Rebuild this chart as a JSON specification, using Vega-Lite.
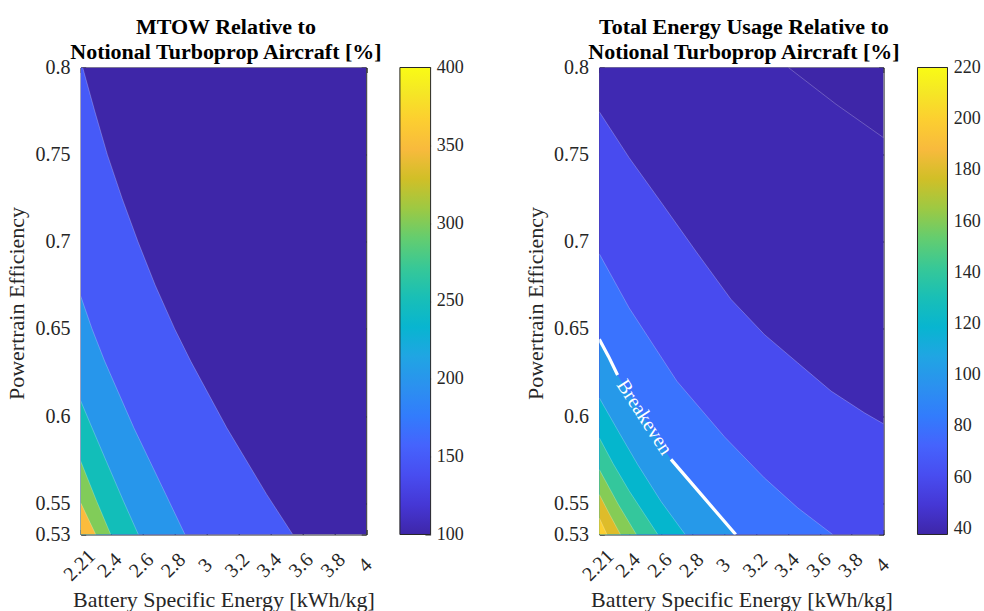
{
  "$schema": "https://vega.github.io/schema/vega-lite/v6.json",
  "padding": {"left": 5.7, "top": 15.5, "right": 0, "bottom": 0},
  "background": "white",
  "datasets": {
    "mtow": [
      {"level": 0, "x": 4, "y": 0.532}, {"level": 0, "x": 4, "y": 0.8},
      {"level": 150, "x": 3.540, "y": 0.532}, {"level": 150, "x": 3.377, "y": 0.555}, {"level": 150, "x": 3.127, "y": 0.5932}, {"level": 150, "x": 2.901, "y": 0.6315}, {"level": 150, "x": 2.801, "y": 0.65}, {"level": 150, "x": 2.679, "y": 0.675}, {"level": 150, "x": 2.571, "y": 0.70}, {"level": 150, "x": 2.471, "y": 0.725}, {"level": 150, "x": 2.379, "y": 0.75}, {"level": 150, "x": 2.300, "y": 0.775}, {"level": 150, "x": 2.2245, "y": 0.8},
      {"level": 200, "x": 2.865, "y": 0.532}, {"level": 200, "x": 2.745, "y": 0.555}, {"level": 200, "x": 2.545, "y": 0.5932}, {"level": 200, "x": 2.362, "y": 0.6315}, {"level": 200, "x": 2.283, "y": 0.65}, {"level": 200, "x": 2.212, "y": 0.6688},
      {"level": 250, "x": 2.573, "y": 0.532}, {"level": 250, "x": 2.480, "y": 0.5511}, {"level": 250, "x": 2.372, "y": 0.5741}, {"level": 250, "x": 2.283, "y": 0.5932}, {"level": 250, "x": 2.212, "y": 0.6087},
      {"level": 300, "x": 2.400, "y": 0.532}, {"level": 300, "x": 2.312, "y": 0.5511}, {"level": 300, "x": 2.212, "y": 0.5741},
      {"level": 350, "x": 2.306, "y": 0.532}, {"level": 350, "x": 2.212, "y": 0.5502}
    ],
    "energy": [
      {"level": 0, "x": 4, "y": 0.532}, {"level": 0, "x": 4, "y": 0.8},
      {"level": 40, "x": 4, "y": 0.532}, {"level": 40, "x": 4, "y": 0.7597}, {"level": 40, "x": 3.701, "y": 0.7789}, {"level": 40, "x": 3.401, "y": 0.8},
      {"level": 60, "x": 4, "y": 0.532}, {"level": 60, "x": 4, "y": 0.5955}, {"level": 60, "x": 3.88, "y": 0.6018}, {"level": 60, "x": 3.67, "y": 0.6143}, {"level": 60, "x": 3.46, "y": 0.6305}, {"level": 60, "x": 3.25, "y": 0.6468}, {"level": 60, "x": 3.04, "y": 0.667}, {"level": 60, "x": 2.82, "y": 0.6945}, {"level": 60, "x": 2.61, "y": 0.7215}, {"level": 60, "x": 2.4, "y": 0.7482}, {"level": 60, "x": 2.212, "y": 0.7746},
      {"level": 80, "x": 3.68, "y": 0.532}, {"level": 80, "x": 3.46, "y": 0.5473}, {"level": 80, "x": 3.25, "y": 0.5645}, {"level": 80, "x": 3.0, "y": 0.588}, {"level": 80, "x": 2.7, "y": 0.62}, {"level": 80, "x": 2.4, "y": 0.662}, {"level": 80, "x": 2.212, "y": 0.6931},
      {"level": 100, "x": 3.07, "y": 0.532}, {"level": 100, "x": 2.862, "y": 0.554}, {"level": 100, "x": 2.663, "y": 0.5751}, {"level": 100, "x": 2.5, "y": 0.598}, {"level": 100, "x": 2.327, "y": 0.6235}, {"level": 100, "x": 2.27, "y": 0.6342}, {"level": 100, "x": 2.212, "y": 0.644},
      {"level": 120, "x": 2.752, "y": 0.532}, {"level": 120, "x": 2.6, "y": 0.551}, {"level": 120, "x": 2.453, "y": 0.5722}, {"level": 120, "x": 2.33, "y": 0.5915}, {"level": 120, "x": 2.212, "y": 0.6104},
      {"level": 140, "x": 2.58, "y": 0.532}, {"level": 140, "x": 2.49, "y": 0.5445}, {"level": 140, "x": 2.4, "y": 0.557}, {"level": 140, "x": 2.3, "y": 0.5725}, {"level": 140, "x": 2.212, "y": 0.5875},
      {"level": 160, "x": 2.445, "y": 0.532}, {"level": 160, "x": 2.33, "y": 0.5495}, {"level": 160, "x": 2.212, "y": 0.5693},
      {"level": 180, "x": 2.345, "y": 0.532}, {"level": 180, "x": 2.28, "y": 0.543}, {"level": 180, "x": 2.212, "y": 0.555},
      {"level": 200, "x": 2.26, "y": 0.532}, {"level": 200, "x": 2.212, "y": 0.5415}
    ],
    "breakeven": [
      {"seg": "a", "x": 2.212, "y": 0.644}, {"seg": "a", "x": 2.27, "y": 0.6342}, {"seg": "a", "x": 2.327, "y": 0.6235},
      {"seg": "b", "x": 2.663, "y": 0.5751}, {"seg": "b", "x": 2.862, "y": 0.554}, {"seg": "b", "x": 3.07, "y": 0.532}
    ],
    "breakevenLabel": [{"x": 2.495, "y": 0.5993, "text": "Breakeven"}],
    "cbarMtow": [{"lo": 100, "hi": 400}],
    "cbarEnergy": [{"lo": 37.6, "hi": 220}],
    "spacer": [{}]
  },
  "hconcat": [
    {
      "width": 285.5,
      "height": 467,
      "title": {"text": ["MTOW Relative to", "Notional Turboprop Aircraft [%]"], "dx": 2.5},
      "data": {"name": "mtow"},
      "layer": [
        {
          "mark": {"type": "area", "orient": "horizontal", "clip": true},
          "encoding": {
            "y": {"field": "y", "type": "quantitative", "scale": {"domain": [0.532, 0.8], "nice": false, "zero": false},
              "axis": {"orient": "left", "values": [0.532, 0.55, 0.6, 0.65, 0.7, 0.75, 0.8], "format": ".2~f", "labelPadding": 15.7, "title": "Powertrain Efficiency", "titleX": -56.7, "titleY": 235.5, "titleBaseline": "alphabetic", "titleAngle": 270}},
            "x": {"field": "x", "type": "quantitative", "stack": null, "scale": {"domain": [2.212, 4], "nice": false, "zero": false},
              "axis": {"orient": "bottom", "values": [2.212, 2.4, 2.6, 2.8, 3, 3.2, 3.4, 3.6, 3.8, 4], "format": ".2~f", "labelAngle": -45, "labelAlign": "center", "labelBaseline": "middle", "labelPadding": 35.5, "labelOffset": -1.5, "title": "Battery Specific Energy [kWh/kg]", "titleY": 72, "titleBaseline": "alphabetic"}},
            "x2": {"datum": 2.212},
            "color": {"field": "level", "type": "ordinal", "legend": null,
              "scale": {"domain": [0, 150, 200, 250, 300, 350], "range": ["#3e26a8", "#465af8", "#2796eb", "#12beb9", "#81cc59", "#fbbc3d"]}}
          }
        },
        {
          "transform": [{"filter": "datum.level > 0 && !(datum.x >= 3.999 && datum.y < 0.533)"}],
          "mark": {"type": "line", "clip": true, "color": "white", "opacity": 0.35, "strokeWidth": 0.7},
          "encoding": {
            "x": {"field": "x", "type": "quantitative", "axis": {"orient": "top", "values": [2.212, 2.4, 2.6, 2.8, 3, 3.2, 3.4, 3.6, 3.8, 4], "labels": false, "title": null}},
            "y": {"field": "y", "type": "quantitative", "axis": {"orient": "right", "values": [0.532, 0.55, 0.6, 0.65, 0.7, 0.75, 0.8], "labels": false, "title": null}},
            "detail": {"field": "level"},
            "order": {"field": "y", "type": "quantitative"}
          }
        }
      ],
      "resolve": {"axis": {"x": "independent", "y": "independent"}}
    },
    {
      "width": 30.7,
      "height": 467,
      "data": {"name": "cbarMtow"},
      "mark": {"type": "rect", "stroke": "#262626", "strokeWidth": 1,
        "fill": {"gradient": "linear", "x1": 0, "y1": 1, "x2": 0, "y2": 0, "stops": [
          {"offset": 0, "color": "#3e26a8"}, {"offset": 0.0635, "color": "#4537d5"}, {"offset": 0.127, "color": "#484df0"}, {"offset": 0.1905, "color": "#4563fd"}, {"offset": 0.254, "color": "#327cfc"}, {"offset": 0.3175, "color": "#2b91ef"}, {"offset": 0.381, "color": "#20a5e3"}, {"offset": 0.444, "color": "#08b5d0"}, {"offset": 0.508, "color": "#19bfb6"}, {"offset": 0.571, "color": "#37c897"}, {"offset": 0.635, "color": "#64cd6f"}, {"offset": 0.698, "color": "#9dc943"}, {"offset": 0.762, "color": "#d1bf27"}, {"offset": 0.825, "color": "#f8ba3d"}, {"offset": 0.889, "color": "#fccf30"}, {"offset": 0.952, "color": "#f5e924"}, {"offset": 1, "color": "#f9fb15"}]}},
      "encoding": {
        "y": {"field": "lo", "type": "quantitative", "scale": {"domain": [100, 400], "nice": false, "zero": false},
          "axis": {"orient": "right", "values": [100, 150, 200, 250, 300, 350, 400], "tickSize": -5.7, "labelPadding": 11.4, "labelFontSize": 18, "domain": false, "title": null}},
        "y2": {"field": "hi"}
      }
    },
    {
      "width": 102,
      "height": 467,
      "data": {"name": "spacer"},
      "mark": {"type": "point", "opacity": 0},
      "encoding": {}
    },
    {
      "width": 284.3,
      "height": 467,
      "title": {"text": ["Total Energy Usage Relative to", "Notional Turboprop Aircraft [%]"], "dx": 2.5},
      "layer": [
        {
          "data": {"name": "energy"},
          "mark": {"type": "area", "orient": "horizontal", "clip": true},
          "encoding": {
            "y": {"field": "y", "type": "quantitative", "scale": {"domain": [0.532, 0.8], "nice": false, "zero": false},
              "axis": {"orient": "left", "values": [0.532, 0.55, 0.6, 0.65, 0.7, 0.75, 0.8], "format": ".2~f", "labelPadding": 15.7, "title": "Powertrain Efficiency", "titleX": -57, "titleY": 235.5, "titleBaseline": "alphabetic", "titleAngle": 270}},
            "x": {"field": "x", "type": "quantitative", "stack": null, "scale": {"domain": [2.212, 4], "nice": false, "zero": false},
              "axis": {"orient": "bottom", "values": [2.212, 2.4, 2.6, 2.8, 3, 3.2, 3.4, 3.6, 3.8, 4], "format": ".2~f", "labelAngle": -45, "labelAlign": "center", "labelBaseline": "middle", "labelPadding": 35.5, "labelOffset": -1.5, "title": "Battery Specific Energy [kWh/kg]", "titleY": 72, "titleBaseline": "alphabetic"}},
            "x2": {"datum": 2.212},
            "color": {"field": "level", "type": "ordinal", "legend": null,
              "scale": {"domain": [0, 40, 60, 80, 100, 120, 140, 160, 180, 200], "range": ["#3e26a8", "#3f29b2", "#484bef", "#3a73fe", "#2699e9", "#05b6cd", "#34c79c", "#85cc56", "#debc2a", "#fccf30"]}}
          }
        },
        {
          "data": {"name": "energy"},
          "transform": [{"filter": "datum.level > 0 && datum.level != 100 && !(datum.x >= 3.999 && datum.y < 0.533)"}],
          "mark": {"type": "line", "clip": true, "color": "white", "opacity": 0.35, "strokeWidth": 0.7},
          "encoding": {
            "x": {"field": "x", "type": "quantitative", "axis": {"orient": "top", "values": [2.212, 2.4, 2.6, 2.8, 3, 3.2, 3.4, 3.6, 3.8, 4], "labels": false, "title": null}},
            "y": {"field": "y", "type": "quantitative", "axis": {"orient": "right", "values": [0.532, 0.55, 0.6, 0.65, 0.7, 0.75, 0.8], "labels": false, "title": null}},
            "detail": {"field": "level"},
            "order": {"field": "y", "type": "quantitative"}
          }
        },
        {
          "data": {"name": "breakeven"},
          "mark": {"type": "line", "clip": true, "color": "white", "strokeWidth": 3.2, "strokeCap": "butt"},
          "encoding": {
            "x": {"field": "x", "type": "quantitative", "axis": null},
            "y": {"field": "y", "type": "quantitative", "axis": null},
            "detail": {"field": "seg"}
          }
        },
        {
          "data": {"name": "breakevenLabel"},
          "mark": {"type": "text", "font": "Liberation Serif", "fontSize": 20, "angle": 57, "color": "white", "align": "center", "baseline": "middle"},
          "encoding": {
            "x": {"field": "x", "type": "quantitative", "axis": null},
            "y": {"field": "y", "type": "quantitative", "axis": null},
            "text": {"field": "text"}
          }
        }
      ],
      "resolve": {"axis": {"x": "independent", "y": "independent"}}
    },
    {
      "width": 30,
      "height": 467,
      "data": {"name": "cbarEnergy"},
      "mark": {"type": "rect", "stroke": "#262626", "strokeWidth": 1,
        "fill": {"gradient": "linear", "x1": 0, "y1": 1, "x2": 0, "y2": 0, "stops": [
          {"offset": 0, "color": "#3e26a8"}, {"offset": 0.0635, "color": "#4537d5"}, {"offset": 0.127, "color": "#484df0"}, {"offset": 0.1905, "color": "#4563fd"}, {"offset": 0.254, "color": "#327cfc"}, {"offset": 0.3175, "color": "#2b91ef"}, {"offset": 0.381, "color": "#20a5e3"}, {"offset": 0.444, "color": "#08b5d0"}, {"offset": 0.508, "color": "#19bfb6"}, {"offset": 0.571, "color": "#37c897"}, {"offset": 0.635, "color": "#64cd6f"}, {"offset": 0.698, "color": "#9dc943"}, {"offset": 0.762, "color": "#d1bf27"}, {"offset": 0.825, "color": "#f8ba3d"}, {"offset": 0.889, "color": "#fccf30"}, {"offset": 0.952, "color": "#f5e924"}, {"offset": 1, "color": "#f9fb15"}]}},
      "encoding": {
        "y": {"field": "lo", "type": "quantitative", "scale": {"domain": [37.6, 220], "nice": false, "zero": false},
          "axis": {"orient": "right", "values": [40, 60, 80, 100, 120, 140, 160, 180, 200, 220], "tickSize": -5.7, "labelPadding": 11.4, "labelFontSize": 18, "domain": false, "title": null}},
        "y2": {"field": "hi"}
      }
    }
  ],
  "spacing": 33.2,
  "bounds": "flush",
  "resolve": {"scale": {"color": "independent"}},
  "config": {
    "font": "Liberation Serif",
    "view": {"stroke": null},
    "axis": {
      "labelFont": "Liberation Serif", "titleFont": "Liberation Serif",
      "labelFontSize": 20, "titleFontSize": 22, "titleFontWeight": "normal",
      "labelColor": "#262626", "titleColor": "#262626",
      "domainColor": "#262626", "tickColor": "#262626",
      "domainWidth": 1, "tickWidth": 1, "tickSize": -5,
      "grid": false, "zindex": 1,
      "labelFlush": false, "labelOverlap": false, "labelBound": false
    },
    "title": {"font": "Liberation Serif", "fontSize": 22, "fontWeight": "bold", "color": "#000000", "lineHeight": 26, "offset": -7, "baseline": "bottom", "frame": "group", "anchor": "middle"}
  }
}
